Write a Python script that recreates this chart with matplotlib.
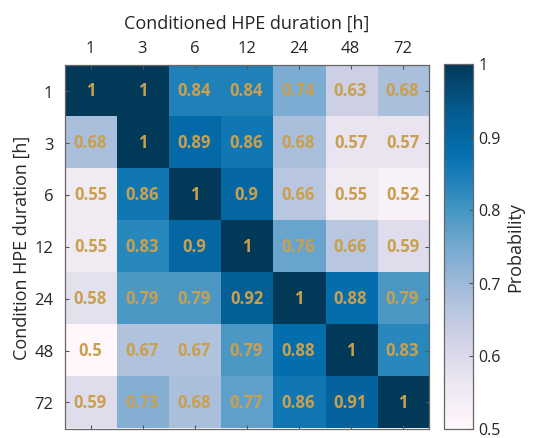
import matplotlib
matplotlib.use("Agg")
import matplotlib.pyplot as plt
import numpy as np

durations = ["1", "3", "6", "12", "24", "48", "72"]
row_1 = [1, 1, 0.84, 0.84, 0.74, 0.63, 0.68]
row_3 = [0.68, 1, 0.89, 0.86, 0.68, 0.57, 0.57]
row_6 = [0.55, 0.86, 1, 0.9, 0.66, 0.55, 0.52]
row_12 = [0.55, 0.83, 0.9, 1, 0.76, 0.66, 0.59]
row_24 = [0.58, 0.79, 0.79, 0.92, 1, 0.88, 0.79]
row_48 = [0.5, 0.67, 0.67, 0.79, 0.88, 1, 0.83]
row_72 = [0.59, 0.73, 0.68, 0.77, 0.86, 0.91, 1]
cbar_ticks = [0.5, 0.6, 0.7, 0.8, 0.9, 1]

M = np.array([row_1, row_3, row_6, row_12, row_24, row_48, row_72])

plt.rcParams['font.family'] = ['Open Sans', 'DejaVu Sans']

fig = plt.figure(figsize=(5.35, 4.39), dpi=100)
W, H = 535, 439
ax = fig.add_axes([64.5 / W, 1 - 429.5 / H, 364 / W, 364 / H])
cax = fig.add_axes([444 / W, 1 - 429.5 / H, 29 / W, 365 / H])

im = ax.imshow(M, cmap="PuBu", vmin=0.5, vmax=1, aspect="auto")
for i in range(M.shape[0]):
    for j in range(M.shape[1]):
        v = M[i, j]
        s = f"{v:g}"
        ax.text(j, i, s, ha="center", va="center", color="#C9A04F",
                fontsize=12, fontweight="bold")

ax.set_xticks(range(len(durations)))
ax.set_xticklabels(durations)
ax.set_yticks(range(len(durations)))
ax.set_yticklabels(durations)
ax.xaxis.tick_top()
ax.xaxis.set_label_position("top")
ax.tick_params(axis="both", which="both", direction="in", length=3,
               top=True, bottom=True, left=True, right=True,
               labeltop=True, labelbottom=False, labelsize=12,
               color="#555555", labelcolor="#262626", pad=6)
ax.tick_params(axis="y", pad=8)
ax.set_xlabel("Conditioned HPE duration [h]", fontsize=13, labelpad=9, color="#262626")
ax.set_ylabel("Condition HPE duration [h]", fontsize=13, labelpad=2.5, color="#262626")
for sp in ax.spines.values():
    sp.set_color("#666666")
    sp.set_linewidth(0.9)

cb = fig.colorbar(im, cax=cax)
cb.set_ticks(cbar_ticks)
cb.set_ticklabels([f"{t:g}" for t in cbar_ticks])
cb.ax.tick_params(direction="in", length=3, labelsize=11.5, color="#555555", labelcolor="#262626", pad=4)
cb.set_label("Probability", fontsize=13, color="#262626", labelpad=4)
cb.outline.set_edgecolor("#666666")
cb.outline.set_linewidth(0.9)

fig.savefig("out.png", dpi=100)
